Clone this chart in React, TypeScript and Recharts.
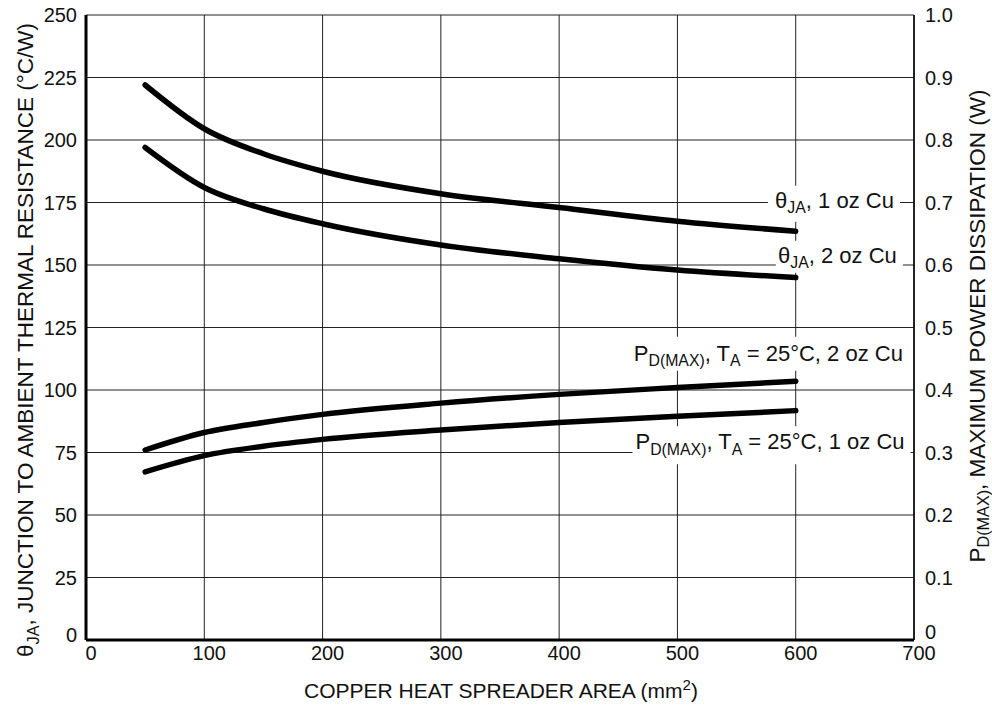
import React from 'react';
import { LineChart, Line, XAxis, YAxis, CartesianGrid, ReferenceDot } from 'recharts';

// copper area (mm2)
const areas = [50, 100, 150, 200, 300, 400, 500, 600];
// thermal resistance, left axis (°C/W)
const theta1oz = [222, 204.5, 194.5, 187.5, 178.5, 173, 167.5, 163.5];
const theta2oz = [197, 181, 172.5, 166.5, 158, 152.5, 148, 145];
// max power dissipation, right axis (W)
const pd2oz = [0.304, 0.332, 0.348, 0.361, 0.379, 0.393, 0.404, 0.414];
const pd1oz = [0.269, 0.295, 0.31, 0.321, 0.336, 0.348, 0.358, 0.367];

const xTicks = [0, 100, 200, 300, 400, 500, 600, 700];
const thetaTicks = [0, 25, 50, 75, 100, 125, 150, 175, 200, 225, 250];
const pdTicks = [0, 0.1, 0.2, 0.3, 0.4, 0.5, 0.6, 0.7, 0.8, 0.9, 1.0];

const data = areas.map((a, i) => ({
  area: a,
  theta1: theta1oz[i],
  theta2: theta2oz[i],
  pd1: pd1oz[i],
  pd2: pd2oz[i],
}));

const FONT = '"Liberation Sans", Arial, Helvetica, sans-serif';
const TICK = 20;

type Part = { t: string; sub?: boolean; sup?: boolean };

// writes text runs, dropping subscripts and raising superscripts
function runs(parts: Part[], size: number, subShift = 0.3) {
  let shift = 0;
  return parts.map((p, i) => {
    const want = p.sub ? size * subShift : p.sup ? -size * 0.4 : 0;
    const dy = want - shift;
    shift = want;
    return (
      <tspan key={i} dy={dy || undefined} fontSize={p.sub || p.sup ? size * 0.72 : size}>
        {p.t}
      </tspan>
    );
  });
}

const theta = (rest: string): Part[] => [{ t: 'θ' }, { t: 'JA', sub: true }, { t: rest }];
const pdmax = (rest: string): Part[] => [
  { t: 'P' },
  { t: 'D(MAX)', sub: true },
  { t: ', T' },
  { t: 'A', sub: true },
  { t: rest },
];

// curve labels: anchor = end of text baseline, in data units of the left axis
const labels = [
  { x: 683, y: 172.9, parts: theta(', 1 oz Cu'), w: 126, top: 22, bottom: 14 },
  { x: 685.5, y: 150.9, parts: theta(', 2 oz Cu'), w: 121, top: 22, bottom: 10 },
  { x: 690.6, y: 111.7, parts: pdmax(' = 25°C, 2 oz Cu'), w: 276, top: 24, bottom: 10 },
  { x: 692, y: 76.3, parts: pdmax(' = 25°C, 1 oz Cu'), w: 272, top: 23, bottom: 15 },
];

function CurveLabel({ cx, cy, parts, w, top, bottom }: any) {
  return (
    <g>
      <rect x={cx - w} y={cy - top} width={w + 6} height={top + bottom} fill="#fff" />
      <text x={cx} y={cy} textAnchor="end" fontFamily={FONT} fill="#111">
        {runs(parts, 22, 0.25)}
      </text>
    </g>
  );
}

// y tick; the zero label sits a little above its line, as in the source figure
function YTick({ x, y, payload, textAnchor, fmt, zeroLift = 5 }: any) {
  const v = payload.value;
  return (
    <text x={x} y={y - (v === 0 ? zeroLift : 0)} dy="0.355em" textAnchor={textAnchor} fontSize={TICK} fontFamily={FONT} fill="#111">
      {fmt ? fmt(v) : v}
    </text>
  );
}

const pdFmt = (v: number) => (v === 0 ? '0' : v.toFixed(1));

export default function App() {
  return (
    <div style={{ position: 'absolute', left: 0, top: 0, background: '#fff' }}>
      <LineChart
        width={992}
        height={709}
        data={data}
        margin={{ top: 15, right: 0, bottom: 0, left: 0 }}
        style={{ fontFamily: FONT }}
      >
        <CartesianGrid stroke="#222" strokeWidth={1} yAxisId="left" />
        <XAxis
          dataKey="area"
          type="number"
          domain={[0, 700]}
          ticks={xTicks}
          height={69}
          tickLine={false}
          tickSize={0}
          tickMargin={6}
          axisLine={{ stroke: '#000', strokeWidth: 3 }}
          tick={{ fill: '#111', fontSize: TICK, dx: 5 }}
          label={{
            content: () => (
              <text x={501} y={698} textAnchor="middle" fontFamily={FONT} fill="#111">
                {runs([{ t: 'COPPER HEAT SPREADER AREA (mm' }, { t: '2', sup: true }, { t: ')' }], 21)}
              </text>
            ),
          }}
        />
        <YAxis
          yAxisId="left"
          orientation="left"
          domain={[0, 250]}
          ticks={thetaTicks}
          width={86}
          tickLine={false}
          tickSize={0}
          tickMargin={9}
          axisLine={{ stroke: '#000', strokeWidth: 3 }}
          tick={<YTick />}
          label={{
            content: () => (
              <text
                x={33}
                y={340}
                textAnchor="middle"
                transform="rotate(-90, 33, 340)"
                fontFamily={FONT}
                fill="#111"
              >
                {runs(theta(', JUNCTION TO AMBIENT THERMAL RESISTANCE (°C/W)'), 22.5, 0.25)}
              </text>
            ),
          }}
        />
        <YAxis
          yAxisId="right"
          orientation="right"
          domain={[0, 1]}
          ticks={pdTicks}
          width={78}
          tickLine={false}
          tickSize={0}
          tickMargin={11}
          axisLine={{ stroke: '#000', strokeWidth: 1.5 }}
          tick={<YTick fmt={pdFmt} zeroLift={8} />}
          label={{
            content: () => (
              <text
                x={985}
                y={326}
                textAnchor="middle"
                transform="rotate(-90, 985, 326)"
                fontFamily={FONT}
                fill="#111"
              >
                {runs(
                  [{ t: 'P' }, { t: 'D(MAX)', sub: true }, { t: ', MAXIMUM POWER DISSIPATION (W)' }],
                  22.5,
                  0.18
                )}
              </text>
            ),
          }}
        />
        {labels.map((l, i) => (
          <ReferenceDot
            key={i}
            x={l.x}
            y={l.y}
            yAxisId="left"
            r={0}
            ifOverflow="visible"
            shape={(p: any) => (
              <CurveLabel cx={p.cx} cy={p.cy} parts={l.parts} w={l.w} top={l.top} bottom={l.bottom} />
            )}
          />
        ))}
        <Line yAxisId="left" type="monotone" dataKey="theta1" stroke="#000" strokeWidth={5.5} strokeLinecap="round" dot={false} isAnimationActive={false} />
        <Line yAxisId="left" type="monotone" dataKey="theta2" stroke="#000" strokeWidth={5.5} strokeLinecap="round" dot={false} isAnimationActive={false} />
        <Line yAxisId="right" type="monotone" dataKey="pd2" stroke="#000" strokeWidth={5.5} strokeLinecap="round" dot={false} isAnimationActive={false} />
        <Line yAxisId="right" type="monotone" dataKey="pd1" stroke="#000" strokeWidth={5.5} strokeLinecap="round" dot={false} isAnimationActive={false} />
      </LineChart>
    </div>
  );
}
